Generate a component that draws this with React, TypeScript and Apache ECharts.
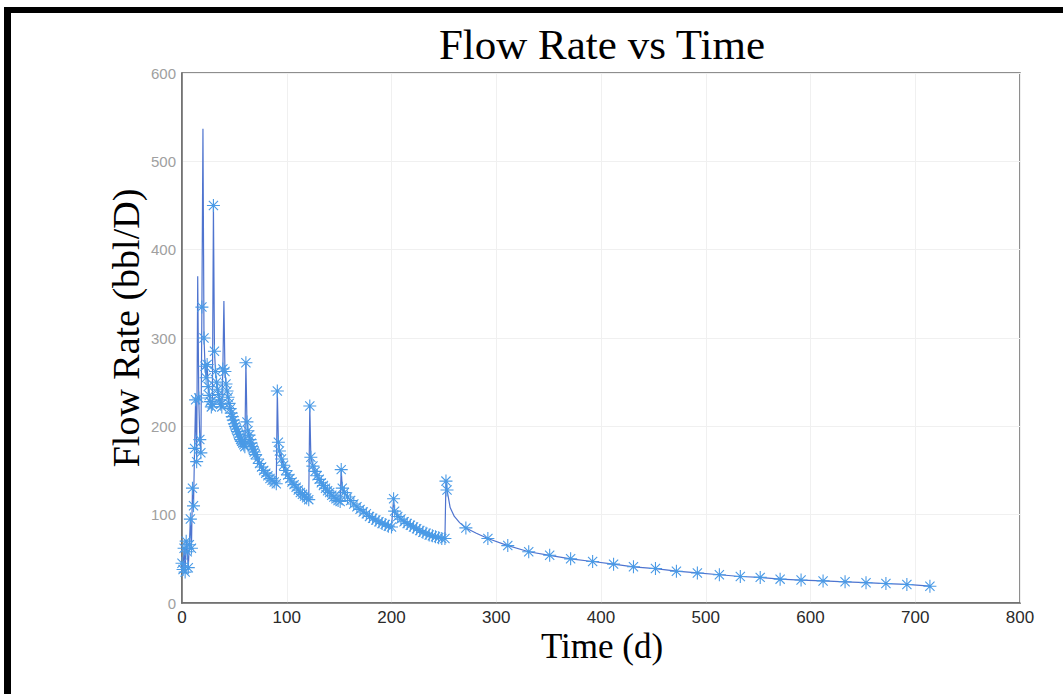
import React, { useEffect, useRef } from "react";
import * as echarts from "echarts";

// ---- data ----
const timeDays = [
  0, 1, 2, 3, 4, 5, 6, 7, 8, 9, 10, 11, 12, 13, 14, 15, 16, 17, 18, 19,
  20, 21, 22, 23, 24, 25, 26, 27, 28, 29, 30, 31, 32, 33, 34, 35, 36, 37, 38, 39,
  40, 41, 42, 43, 44, 45, 46, 47, 48, 49, 50, 51, 52, 53, 54, 55, 56, 57, 58, 59,
  60, 61, 62, 63, 64, 65, 66, 67, 68, 69, 70, 72, 74, 76, 78, 80, 82, 84, 86, 88,
  90, 91, 92, 93, 95, 97, 99, 101, 103, 105, 107, 109, 111, 113, 115, 117, 119, 121,
  122, 123, 125, 127, 129, 131, 133, 135, 137, 139, 141, 143, 145, 147, 149, 151,
  152, 153, 155, 158, 161, 164, 167, 170, 173, 176, 179, 182, 185, 188, 191, 194, 197, 200,
  202, 203, 206, 209, 212, 215, 218, 221, 224, 227, 230, 233, 236, 239, 242, 245, 248, 251,
  252, 253, 256, 260, 265, 271, 281, 292, 311, 331, 351, 371, 392, 412, 431, 452, 472, 492,
  513, 533, 552, 571, 591, 612, 633, 653, 672, 692, 714,
];
const flowRate = [
  45, 38, 62, 35, 70, 58, 40, 66, 95, 62, 130, 110, 175, 230, 160, 370, 232, 185, 170, 335,
  537, 300, 268, 255, 270, 245, 235, 228, 222, 225, 450, 285, 262, 250, 242, 236, 230, 225, 222, 265,
  342, 262, 248, 240, 233, 226, 220, 215, 211, 207, 203, 200, 197, 194, 191, 188, 185, 183, 181, 179,
  177, 272, 205, 195, 190, 185, 181, 177, 174, 171, 168, 163, 158, 154, 150, 147, 144, 141, 139, 137,
  135, 240, 182, 172, 163, 156, 150, 145, 141, 137, 134, 131, 128, 125, 123, 121, 119, 117,
  223, 165, 155, 149, 144, 140, 136, 133, 130, 127, 125, 122, 120, 118, 116, 115,
  151, 130, 125, 120, 116, 112, 109, 106, 103, 101, 98, 96, 94, 92, 90, 89, 87, 86,
  118, 104, 98, 95, 92, 90, 88, 86, 84, 82, 80, 79, 77, 76, 75, 74, 73, 73,
  138, 128, 108, 98, 91, 85, 79, 73, 65, 58, 54, 50, 47, 44, 41, 39, 36, 34,
  32, 30, 29, 27, 26, 25, 24, 23, 22, 21, 19,
];
// points drawn by the line only, with no star marker
const unmarkedDays = [15, 20, 40, 256, 260, 265, 281];

const xTicks = { min: 0, max: 800, interval: 100 };
const yTicks = { min: 0, max: 600, interval: 100 };

const STAR = "path://M5,0L5,10M0,5L10,5M1.46,1.46L8.54,8.54M1.46,8.54L8.54,1.46";

export default function App() {
  const ref = useRef<HTMLDivElement>(null);

  useEffect(() => {
    if (!ref.current) return;
    const chart = echarts.init(ref.current, undefined, { renderer: "svg" });
    const data = timeDays.map((t, i) => {
      const item: any = { value: [t, flowRate[i]] };
      if (unmarkedDays.includes(t)) item.symbol = "none";
      return item;
    });
    chart.setOption({
      animation: false,
      backgroundColor: "#ffffff",
      grid: {
        left: 182,
        top: 73,
        right: 43,
        bottom: 91,
        show: true,
        borderColor: "#6a6a6a",
        borderWidth: 1.5,
        backgroundColor: "#ffffff",
      },
      xAxis: {
        type: "value",
        min: xTicks.min,
        max: xTicks.max,
        interval: xTicks.interval,
        axisLine: { show: true, lineStyle: { color: "#6a6a6a", width: 1.5 } },
        axisTick: { show: false },
        axisLabel: {
          color: "#2a2a2a",
          fontSize: 17,
          fontFamily: "Liberation Sans, Arial, sans-serif",
          margin: 6,
        },
        splitLine: { show: true, lineStyle: { color: "#f0f0f0", width: 1 } },
      },
      yAxis: {
        type: "value",
        min: yTicks.min,
        max: yTicks.max,
        interval: yTicks.interval,
        axisLine: { show: true, lineStyle: { color: "#6a6a6a", width: 1.5 } },
        axisTick: { show: false },
        axisLabel: {
          color: "#a0a0a0",
          fontSize: 15,
          fontFamily: "Liberation Sans, Arial, sans-serif",
          margin: 6,
        },
        splitLine: { show: true, lineStyle: { color: "#f0f0f0", width: 1 } },
      },
      graphic: [
        { type: "rect", shape: { x: 4, y: 7, width: 1070, height: 6 }, style: { fill: "#000" } },
        { type: "rect", shape: { x: 4, y: 7, width: 7, height: 700 }, style: { fill: "#000" } },
        {
          type: "text",
          x: 602,
          y: 44,
          style: {
            text: "Flow Rate vs Time",
            font: "43px 'Liberation Serif', 'Times New Roman', serif",
            fill: "#000",
            align: "center",
            verticalAlign: "middle",
          },
        },
        {
          type: "text",
          x: 602,
          y: 646,
          style: {
            text: "Time (d)",
            font: "35px 'Liberation Serif', 'Times New Roman', serif",
            fill: "#000",
            align: "center",
            verticalAlign: "middle",
          },
        },
        {
          type: "text",
          x: 126,
          y: 328,
          rotation: Math.PI / 2,
          style: {
            text: "Flow Rate (bbl/D)",
            font: "38px 'Liberation Serif', 'Times New Roman', serif",
            fill: "#000",
            align: "center",
            verticalAlign: "middle",
          },
        },
      ],
      series: [
        {
          type: "line",
          data,
          symbol: STAR,
          symbolSize: 13,
          showAllSymbol: true,
          lineStyle: { color: "#4f74cf", width: 1.2 },
          itemStyle: { color: "rgba(0,0,0,0)", borderColor: "#4a9ae6", borderWidth: 1.1 },
        },
      ],
    });
    return () => chart.dispose();
  }, []);

  return (
    <div
      ref={ref}
      style={{ position: "fixed", left: 0, top: 0, width: 1063, height: 694, background: "#fff" }}
    />
  );
}
